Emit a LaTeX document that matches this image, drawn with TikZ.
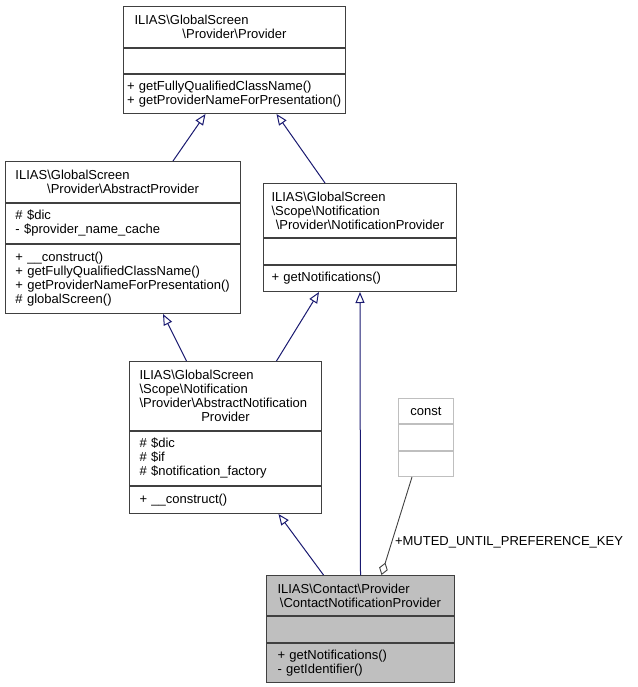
\documentclass[tikz,border=0pt]{standalone}
\usepackage{fontspec}
\setmainfont{Liberation Sans}
\usetikzlibrary{arrows.meta,positioning}
\definecolor{edgeblue}{HTML}{191970}
\definecolor{boxline}{HTML}{404040}
\definecolor{constgray}{HTML}{BFBFBF}
\newcommand{\leftln}[1]{\makebox[\linewidth][l]{#1}}
\newcommand{\nsep}{\textbackslash}

\begin{document}
\begin{tikzpicture}[
    x=1pt, y=-1pt,
    font=\fontsize{13}{14}\selectfont,
    part/.style={draw=boxline, line width=1pt, fill=white, inner ysep=0pt, align=left},
    clstitle/.style={part, align=center},
    inherit/.style={-{Triangle[open, length=11pt, width=9pt]}, color=edgeblue, line width=1pt},
    usage/.style={-{Diamond[open, length=13pt, width=9pt]}, color=boxline, line width=0.9pt}
]
\useasboundingbox (0,0) rectangle (637,687);

% Provider
\node[clstitle, anchor=north west, text width=200pt, inner xsep=11pt, minimum height=41pt] (provider) at (123,6)
    {\leftln{ILIAS\nsep GlobalScreen}\\\nsep Provider\nsep Provider};
\node[part, below=0pt of provider, text width=215pt, inner xsep=3.5pt, minimum height=25pt] (provider-attr) {};
\node[part, below=0pt of provider-attr, text width=215pt, inner xsep=3.5pt, minimum height=39pt] (provider-ops)
    {+ getFullyQualifiedClassName()\\+ getProviderNameForPresentation()};

% AbstractProvider
\node[clstitle, anchor=north west, text width=215pt, inner xsep=10pt, minimum height=41pt] (absprov) at (5,161)
    {\leftln{ILIAS\nsep GlobalScreen}\\\nsep Provider\nsep AbstractProvider};
\node[part, below=0pt of absprov, text width=215pt, inner xsep=10pt, minimum height=40pt] (absprov-attr)
    {\# \$dic\\- \$provider\_name\_cache};
\node[part, below=0pt of absprov-attr, text width=215pt, inner xsep=10pt, minimum height=69pt] (absprov-ops)
    {+ \_\_construct()\\+ getFullyQualifiedClassName()\\+ getProviderNameForPresentation()\\\# globalScreen()};

% NotificationProvider
\node[clstitle, anchor=north west, text width=177pt, inner xsep=8pt, minimum height=54pt] (notprov) at (263,183)
    {\leftln{ILIAS\nsep GlobalScreen}\\\leftln{\nsep Scope\nsep Notification}\\\nsep Provider\nsep NotificationProvider};
\node[part, below=0pt of notprov, text width=177pt, inner xsep=8pt, minimum height=26pt] (notprov-attr) {};
\node[part, below=0pt of notprov-attr, text width=177pt, inner xsep=8pt, minimum height=26pt] (notprov-ops)
    {+ getNotifications()};

% AbstractNotificationProvider
\node[clstitle, anchor=north west, text width=172pt, inner xsep=10pt, minimum height=69pt] (absnot) at (129,361)
    {\leftln{ILIAS\nsep GlobalScreen}\\\leftln{\nsep Scope\nsep Notification}\\\leftln{\nsep Provider\nsep AbstractNotification}\\Provider};
\node[part, below=0pt of absnot, text width=172pt, inner xsep=10pt, minimum height=54pt] (absnot-attr)
    {\# \$dic\\\# \$if\\\# \$notification\_factory};
\node[part, below=0pt of absnot-attr, text width=172pt, inner xsep=10pt, minimum height=27pt] (absnot-ops)
    {+ \_\_construct()};

% const
\node[clstitle, draw=constgray, anchor=north west, text width=55pt, inner xsep=0pt, minimum height=25pt] (const) at (398,398)
    {const};
\node[part, draw=constgray, below=0pt of const, text width=55pt, inner xsep=0pt, minimum height=26pt] (const-attr) {};
\node[part, draw=constgray, below=0pt of const-attr, text width=55pt, inner xsep=0pt, minimum height=25pt] (const-ops) {};

% ContactNotificationProvider
\node[clstitle, fill=constgray, anchor=north west, text width=166pt, inner xsep=11pt, minimum height=40pt] (contact) at (266,575)
    {\leftln{ILIAS\nsep Contact\nsep Provider}\\\nsep ContactNotificationProvider};
\node[part, fill=constgray, below=0pt of contact, text width=166pt, inner xsep=11pt, minimum height=26pt] (contact-attr) {};
\node[part, fill=constgray, below=0pt of contact-attr, text width=166pt, inner xsep=11pt, minimum height=39pt] (contact-ops)
    {+ getNotifications()\\- getIdentifier()};

% generalisations
\draw[inherit] ([xshift=50pt]absprov.north) -- ([xshift=-29pt]provider-ops.south);
\draw[inherit] ([xshift=-35pt]notprov.north) -- ([xshift=42pt]provider-ops.south);
\draw[inherit] ([xshift=-39pt]absnot.north) -- ([xshift=40pt]absprov-ops.south);
\draw[inherit] ([xshift=51pt]absnot.north) -- ([xshift=-41pt]notprov-ops.south);
\draw[inherit] (contact.north) -- (notprov-ops.south);
\draw[inherit] ([xshift=-37pt]contact.north) -- ([xshift=53pt]absnot-ops.south);

% usage
\draw[usage] ([xshift=-14pt]const-ops.south) -- node[pos=0.67, anchor=west, inner sep=3pt, text=black] {+MUTED\_UNTIL\_PREFERENCE\_KEY} ([xshift=21pt]contact.north);
\end{tikzpicture}
\end{document}
